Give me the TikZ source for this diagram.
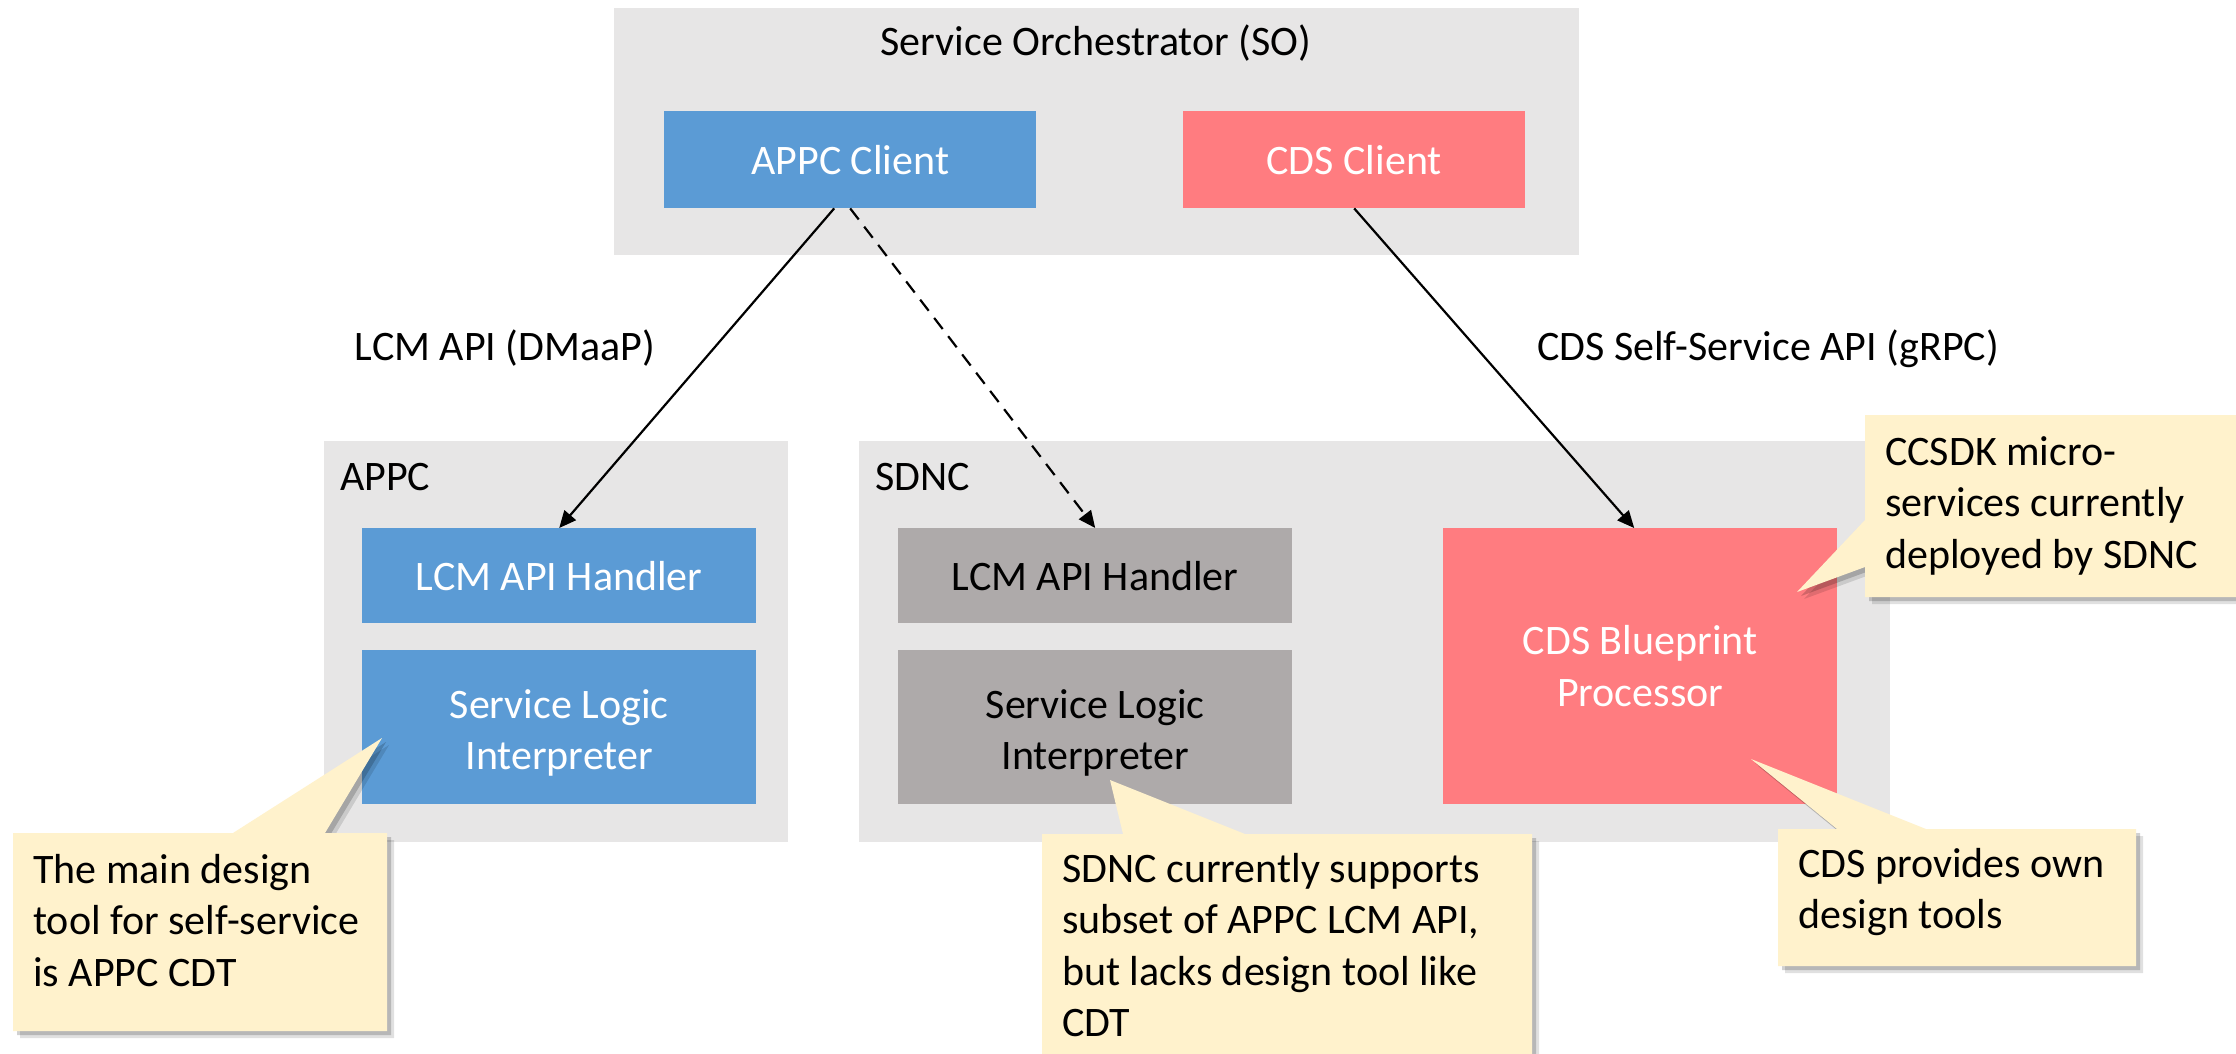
\documentclass[tikz,border=0pt]{standalone}
\usepackage{fontspec}
\setmainfont{Carlito}
\usetikzlibrary{arrows.meta,calc,shadows}
\definecolor{grpbg}{HTML}{E7E6E6}
\definecolor{appcblue}{HTML}{5B9BD5}
\definecolor{cdspink}{HTML}{FF7C80}
\definecolor{sdncgray}{HTML}{AEAAAA}
\definecolor{notefill}{HTML}{FFF2CC}
\begin{document}
\begin{tikzpicture}[x=1pt,y=-1pt,
  every node/.style={font=\fontsize{42}{51.5}\selectfont, inner sep=0pt},
  grp/.style={fill=grpbg, draw=none, anchor=north west},
  bluebox/.style={fill=appcblue, text=white, anchor=north west, align=center},
  pinkbox/.style={fill=cdspink, text=white, anchor=north west, align=center},
  graybox/.style={fill=sdncgray, text=black, anchor=north west, align=center},
  conn/.style={line width=2.2pt, -{Triangle[length=17pt,width=15pt]}},
  callout/.style={fill=notefill, draw=none,
    drop shadow={shadow xshift=7pt, shadow yshift=-7pt, opacity=0.12, fill=black},
    drop shadow={shadow xshift=4pt, shadow yshift=-4pt, opacity=0.18, fill=black}},
  notetext/.style={anchor=base west, text=black}
]
\useasboundingbox (0,0) rectangle (2236,1053);
\fill[white] (0,0) rectangle (2236,1053);
\clip (0,0) rectangle (2236,1053);

% group containers
\node[grp, minimum width=965pt, minimum height=247pt] (so) at (614,8) {};
\node[grp, minimum width=464pt, minimum height=401pt] (appc) at (324,441) {};
\node[grp, minimum width=1031pt, minimum height=401pt] (sdnc) at (859,441) {};

% group labels
\node[anchor=base] (solabel) at (1096,55) {Service Orchestrator (SO)};
\node[anchor=base west] (appclabel) at (340,490) {APPC};
\node[anchor=base west] (sdnclabel) at (875,490) {SDNC};

% SO clients
\node[bluebox, minimum width=372pt, minimum height=97pt] (appcclient) at (664,111) {APPC Client};
\node[pinkbox, minimum width=342pt, minimum height=97pt] (cdsclient) at (1183,111) {CDS Client};

% APPC components
\node[bluebox, minimum width=394pt, minimum height=95pt] (appclcm) at (362,528) {LCM API Handler};
\node[bluebox, minimum width=394pt, minimum height=154pt] (appcsli) at (362,650) {\rule{0pt}{40pt}Service Logic\\Interpreter};

% SDNC components
\node[graybox, minimum width=394pt, minimum height=95pt] (sdnclcm) at (898,528) {LCM API Handler};
\node[graybox, minimum width=394pt, minimum height=154pt] (sdncsli) at (898,650) {\rule{0pt}{40pt}Service Logic\\Interpreter};
\node[pinkbox, minimum width=394pt, minimum height=276pt] (cdsbp) at (1443,528) {CDS Blueprint\\Processor};

% connectors
\draw[conn] ([xshift=-16pt]appcclient.south) -- (appclcm.north);
\draw[conn, dash pattern=on 14pt off 9pt] (appcclient.south) -- (sdnclcm.north);
\draw[conn] (cdsclient.south) -- ([xshift=-6pt]cdsbp.north);

% connector labels
\node[anchor=base] (lcmlabel) at (505,360) {LCM API (DMaaP)};
\node[anchor=base] (cdslabel) at (1768,360) {CDS Self-Service API (gRPC)};

% callouts
\fill[callout] (13,833) -- (233,833) -- (382,738) -- (325,833) -- (387,833) -- (387,1031) -- (13,1031) -- cycle;
\node[notetext] (note1) at (33,883) {\parbox[t]{600pt}{\raggedright\fontsize{42}{51.5}\selectfont The main design\\tool for self-service\\is APPC CDT}};

\fill[callout] (1865,415) -- (2260,415) -- (2260,597) -- (1865,597) -- (1865,567) -- (1797,592) -- (1865,520) -- cycle;
\node[notetext] (note2) at (1885,465) {\parbox[t]{600pt}{\raggedright\fontsize{42}{51.5}\selectfont CCSDK micro-\\services currently\\deployed by SDNC}};

\fill[callout] (1042,834) -- (1123,834) -- (1110,780) -- (1245,834) -- (1532,834) -- (1532,1070) -- (1042,1070) -- cycle;
\node[notetext] (note3) at (1062,882) {\parbox[t]{600pt}{\raggedright\fontsize{42}{51.5}\selectfont SDNC currently supports\\subset of APPC LCM API,\\but lacks design tool like\\CDT}};

\fill[callout] (1778,829) -- (1837,829) -- (1751,759) -- (1926,829) -- (2136,829) -- (2136,966) -- (1778,966) -- cycle;
\node[notetext] (note4) at (1798,877) {\parbox[t]{600pt}{\raggedright\fontsize{42}{51.5}\selectfont CDS provides own\\design tools}};
\end{tikzpicture}
\end{document}
